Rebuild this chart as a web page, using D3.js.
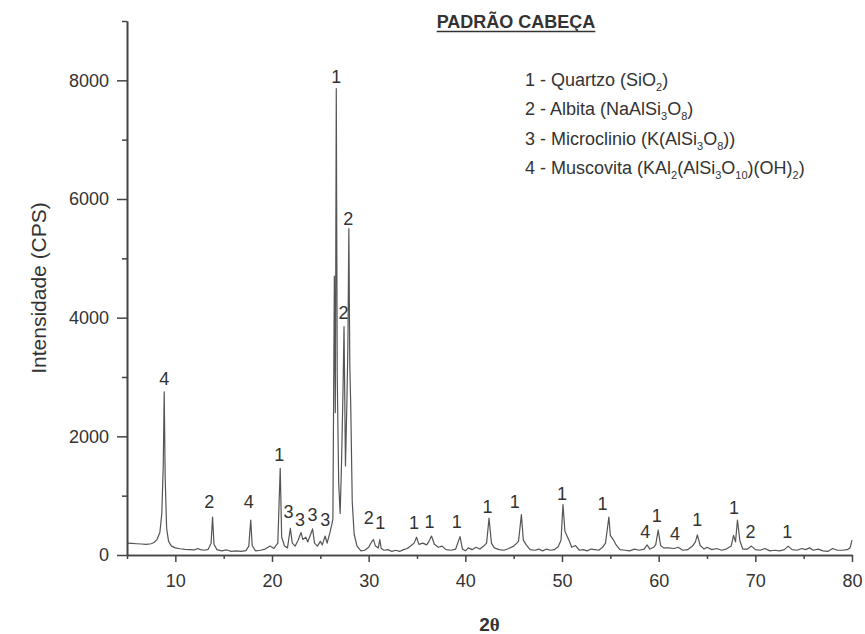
<!DOCTYPE html>
<html>
<head>
<meta charset="utf-8">
<script src="https://cdn.jsdelivr.net/npm/d3@7"></script>
<style>
  body { margin: 0; background: #fff; }
  text { font-family: "Liberation Sans", Arial, sans-serif; fill: #333; }
</style>
</head>
<body>
<div id="xrd"></div>
<script>
// 2-theta positions and counts
const thetaValues = [
  5.0, 5.5, 6.0, 6.5, 7.0, 7.5, 7.8, 8.1, 8.4, 8.6, 8.75, 8.85, 8.95, 9.1, 9.3, 9.6,
  10.0, 10.5, 11.0, 11.5, 12.0, 12.3, 12.6, 13.0, 13.4, 13.7, 13.85, 14.0, 14.3, 14.8,
  15.3, 15.8, 16.3, 16.8, 17.3, 17.6, 17.8, 17.95, 18.3, 18.8, 19.3, 19.8, 20.2, 20.6,
  20.85, 21.0, 21.3, 21.6, 21.9, 22.1, 22.4, 22.7, 23.0, 23.2, 23.5, 23.7, 24.0, 24.2,
  24.4, 24.7, 25.0, 25.2, 25.5, 25.7, 26.0, 26.3, 26.45, 26.55, 26.65, 26.75, 26.9,
  27.05, 27.2, 27.35, 27.45, 27.6, 27.75, 27.85, 27.95, 28.05, 28.15, 28.3, 28.5, 28.8,
  29.2, 29.6, 30.0, 30.3, 30.5, 30.7, 31.0, 31.15, 31.3, 31.6, 32.0, 32.4, 32.8, 33.2,
  33.6, 34.0, 34.4, 34.7, 34.95, 35.2, 35.6, 36.0, 36.2, 36.5, 36.8, 37.2, 37.6, 38.0,
  38.5, 39.0, 39.45, 39.7, 40.0, 40.3, 40.7, 41.1, 41.5, 41.9, 42.2, 42.45, 42.7, 43.0,
  43.5, 44.0, 44.5, 45.0, 45.5, 45.8, 46.0, 46.3, 46.7, 47.2, 47.6, 48.0, 48.4, 48.8,
  49.2, 49.6, 49.9, 50.1, 50.3, 50.5, 50.8, 51.0, 51.4, 51.8, 52.2, 52.6, 53.0, 53.4,
  53.8, 54.2, 54.5, 54.85, 55.0, 55.3, 55.6, 56.0, 56.5, 57.0, 57.5, 58.0, 58.5, 58.8,
  59.1, 59.5, 59.7, 59.95, 60.2, 60.5, 61.0, 61.6, 62.0, 62.5, 63.0, 63.5, 63.8, 64.0,
  64.3, 64.7, 65.0, 65.5, 66.0, 66.5, 67.0, 67.5, 67.75, 67.95, 68.15, 68.4, 68.7, 69.2,
  69.6, 70.0, 70.5, 71.0, 71.5, 72.0, 72.5, 73.0, 73.4, 73.8, 74.3, 74.8, 75.2, 75.6,
  76.0, 76.5, 77.0, 77.5, 78.0, 78.5, 79.0, 79.5, 79.8, 80.0
];
const intensityValues = [
  200, 195, 190, 185, 180, 190, 210, 260, 380, 700, 1500, 2750, 1300, 450, 230, 150,
  120, 105, 95, 90, 85, 110, 90, 80, 95, 200, 640, 180, 90, 70,
  85, 60, 70, 60, 75, 150, 590, 160, 70, 80, 100, 150, 110, 200,
  1460, 300, 150, 120, 450, 200, 150, 250, 380, 260, 300, 220, 350, 440,
  200, 150, 230, 170, 320, 200, 380, 600, 4700, 2400, 7860, 3000, 1200,
  700, 1600, 2800, 3850, 1500, 2600, 3500, 5500, 3200, 2480, 900, 350, 150,
  70, 80, 130, 220, 260, 150, 120, 260, 110, 80, 90, 60, 80, 60,
  90, 110, 160, 200, 300, 180, 200, 170, 220, 320, 180, 130, 150, 90,
  80, 100, 310, 100, 70, 120, 90, 130, 100, 150, 200, 620, 200, 120,
  90, 80, 110, 150, 230, 680, 250, 170, 90, 80, 100, 70, 100, 80,
  90, 140, 250, 850, 400, 330, 220, 130, 160, 80, 90, 70, 100, 90,
  80, 130, 200, 640, 330, 260, 170, 90, 80, 70, 100, 80, 100, 170,
  100, 130, 180, 420, 160, 120, 120, 110, 130, 80, 90, 150, 220, 340,
  160, 100, 130, 90, 110, 80, 100, 150, 330, 220, 590, 240, 100, 100,
  150, 90, 80, 110, 70, 80, 70, 90, 150, 90, 80, 110, 90, 120,
  80, 100, 70, 60, 110, 80, 80, 90, 120, 250
];

// phase numbers written above the peaks
const peakLabelTheta = [8.85, 13.5, 17.6, 20.75, 21.7, 22.9, 24.2, 25.5, 26.66, 27.4, 27.9,
  30.0, 31.2, 34.7, 36.3, 39.1, 42.3, 45.1, 50.0, 54.2, 58.6, 59.8, 61.7, 64.0, 67.8, 69.5, 73.3];
const peakLabelCps = [2860, 790, 790, 1580, 620, 490, 570, 490, 7950, 3970, 5560,
  520, 440, 440, 460, 460, 710, 790, 930, 760, 290, 560, 250, 490, 690, 290, 290];
const peakLabelText = ["4", "2", "4", "1", "3", "3", "3", "3", "1", "2", "2",
  "2", "1", "1", "1", "1", "1", "1", "1", "1", "4", "1", "4", "1", "1", "2", "1"];

const xMajorTicks = [10, 20, 30, 40, 50, 60, 70, 80];
const xMinorTicks = [5, 15, 25, 35, 45, 55, 65, 75];
const yMajorTicks = [0, 2000, 4000, 6000, 8000];
const yMinorTicks = [1000, 3000, 5000, 7000, 9000];

const legendLabels = [
  "1 - Quartzo (SiO_{2})",
  "2 - Albita (NaAlSi_{3}O_{8})",
  "3 - Microclinio (K(AlSi_{3}O_{8}))",
  "4 - Muscovita (KAl_{2}(AlSi_{3}O_{10})(OH)_{2})"
];

const chartTitle = "PADRÃO CABEÇA";

function drawPattern() {
  const width = 865;
  const height = 634;
  const margin = { top: 21, right: 13, bottom: 79, left: 127 };

  const svg = d3.select("#xrd")
    .append("svg")
    .attr("width", width)
    .attr("height", height);

  const xScale = d3.scaleLinear()
    .domain([5, 80])
    .range([margin.left, width - margin.right]);

  const yScale = d3.scaleLinear()
    .domain([0, 9000])
    .range([height - margin.bottom, margin.top]);

  const pattern = thetaValues.map((t, i) => ({ theta: t, cps: intensityValues[i] }));

  const line = d3.line()
    .x(d => xScale(d.theta))
    .y(d => yScale(d.cps));

  svg.append("path")
    .datum(pattern)
    .attr("fill", "none")
    .attr("stroke", "#555")
    .attr("stroke-width", 1.2)
    .attr("stroke-linejoin", "round")
    .attr("d", line);

  // axes
  const baseY = yScale(0);
  const xMajor = d3.axisBottom(xScale).tickValues(xMajorTicks).tickSize(7).tickPadding(12).tickSizeOuter(0);
  const xMinor = d3.axisBottom(xScale).tickValues(xMinorTicks).tickSize(4).tickFormat("").tickSizeOuter(0);
  const yMajor = d3.axisLeft(yScale).tickValues(yMajorTicks).tickFormat(d3.format("d"))
    .tickSize(10).tickPadding(8).tickSizeOuter(0);
  const yMinor = d3.axisLeft(yScale).tickValues(yMinorTicks).tickSize(5).tickFormat("").tickSizeOuter(0);

  [xMajor, xMinor].forEach(ax => {
    svg.append("g")
      .attr("transform", `translate(0, ${baseY})`)
      .call(ax);
  });
  [yMajor, yMinor].forEach(ax => {
    svg.append("g")
      .attr("transform", `translate(${margin.left}, 0)`)
      .call(ax);
  });

  svg.selectAll(".domain").attr("stroke", "#444").attr("stroke-width", 1.6);
  svg.selectAll(".tick line").attr("stroke", "#444").attr("stroke-width", 1.5);
  svg.selectAll(".tick text")
    .attr("font-size", "18px")
    .attr("font-family", "Liberation Sans, Arial, sans-serif")
    .attr("fill", "#333");

  // axis titles
  svg.append("text")
    .attr("transform", `translate(46, ${(yScale(0) + yScale(9000)) / 2}) rotate(-90)`)
    .attr("text-anchor", "middle")
    .attr("font-size", "21px")
    .text("Intensidade (CPS)");

  const xTitle = svg.append("text")
    .attr("x", (xScale(5) + xScale(80)) / 2)
    .attr("y", 631)
    .attr("text-anchor", "middle")
    .attr("font-size", "19px")
    .attr("font-weight", "bold");
  xTitle.append("tspan").text("2");
  xTitle.append("tspan")
    .style("font-family", "Liberation Serif, serif")
    .text("θ");

  // peak labels
  peakLabelText.forEach((txt, i) => {
    svg.append("text")
      .attr("x", xScale(peakLabelTheta[i]))
      .attr("y", yScale(peakLabelCps[i]))
      .attr("text-anchor", "middle")
      .attr("font-size", "18px")
      .text(txt);
  });

  // title
  const title = svg.append("text")
    .attr("x", 516)
    .attr("y", 28)
    .attr("text-anchor", "middle")
    .attr("font-size", "18px")
    .attr("font-weight", "bold")
    .text(chartTitle);
  const tb = title.node().getBBox();
  svg.append("line")
    .attr("x1", tb.x)
    .attr("x2", tb.x + tb.width)
    .attr("y1", 31.5)
    .attr("y2", 31.5)
    .attr("stroke", "#333")
    .attr("stroke-width", 1.6);

  // legend with subscripts
  legendLabels.forEach((label, i) => {
    const t = svg.append("text")
      .attr("x", 525)
      .attr("y", 86 + i * 29.3)
      .attr("font-size", "18px");
    let shifted = false;
    label.split(/(_\{[^}]*\})/).filter(s => s.length).forEach(part => {
      if (part.startsWith("_{")) {
        t.append("tspan")
          .attr("font-size", "11px")
          .attr("dy", 5)
          .text(part.slice(2, -1));
        shifted = true;
      } else {
        t.append("tspan")
          .attr("dy", shifted ? -5 : 0)
          .text(part);
        shifted = false;
      }
    });
  });
}

drawPattern();
</script>
</body>
</html>
